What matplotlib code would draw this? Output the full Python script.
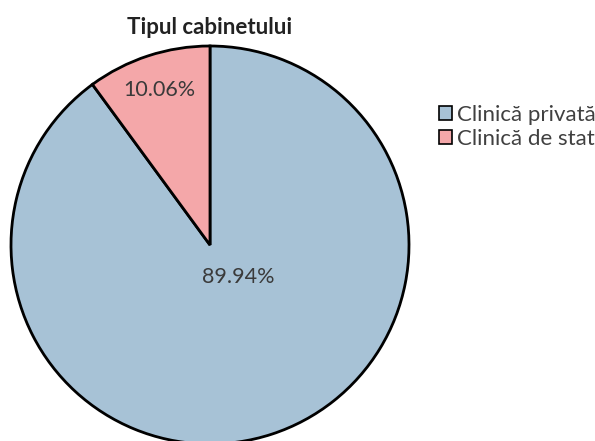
import matplotlib.pyplot as plt

plt.rcParams['font.family'] = ['Lato', 'DejaVu Sans']

title = "Tipul cabinetului"
labels = ["Clinică privată", "Clinică de stat"]
values = [89.94, 10.06]
colors = ["#A7C2D6", "#F4A7A9"]

W, H = 595, 441
fig = plt.figure(figsize=(W / 100, H / 100), dpi=100)
fig.patch.set_facecolor("white")

# pie centre ~ (210, 245) px, radius ~ 199 px (bottom runs off the canvas)
cx, cy, r = 210, 245, 199
ax = fig.add_axes([(cx - r) / W, (H - cy - r) / H, 2 * r / W, 2 * r / H])
wedges, texts, autotexts = ax.pie(values, colors=colors, startangle=90, counterclock=False,
                                  autopct=lambda p: "%.2f%%" % p, pctdistance=0.82,
                                  wedgeprops=dict(edgecolor="black", linewidth=2),
                                  textprops=dict(fontsize=15.5, color="#3a3a3a"))
autotexts[0].set_position((0.14, -0.16))
ax.set_xlim(-1, 1)
ax.set_ylim(-1, 1)
ax.set_aspect("equal")
ax.axis("off")

fig.text(cx / W, 1 - 27 / H, title, ha="center", va="center", fontsize=16,
         fontweight="bold", color="#222222")

leg = fig.legend(wedges, labels, loc="upper left", bbox_to_anchor=(430 / W, 1 - 96 / H),
                 frameon=False, fontsize=16, handlelength=0.6, handleheight=0.6,
                 handletextpad=0.2, labelspacing=0.18, borderaxespad=0)
for t in leg.get_texts():
    t.set_color("#404040")
for h in leg.legend_handles:
    h.set_linewidth(1.2)

fig.savefig("out.png", dpi=100)
